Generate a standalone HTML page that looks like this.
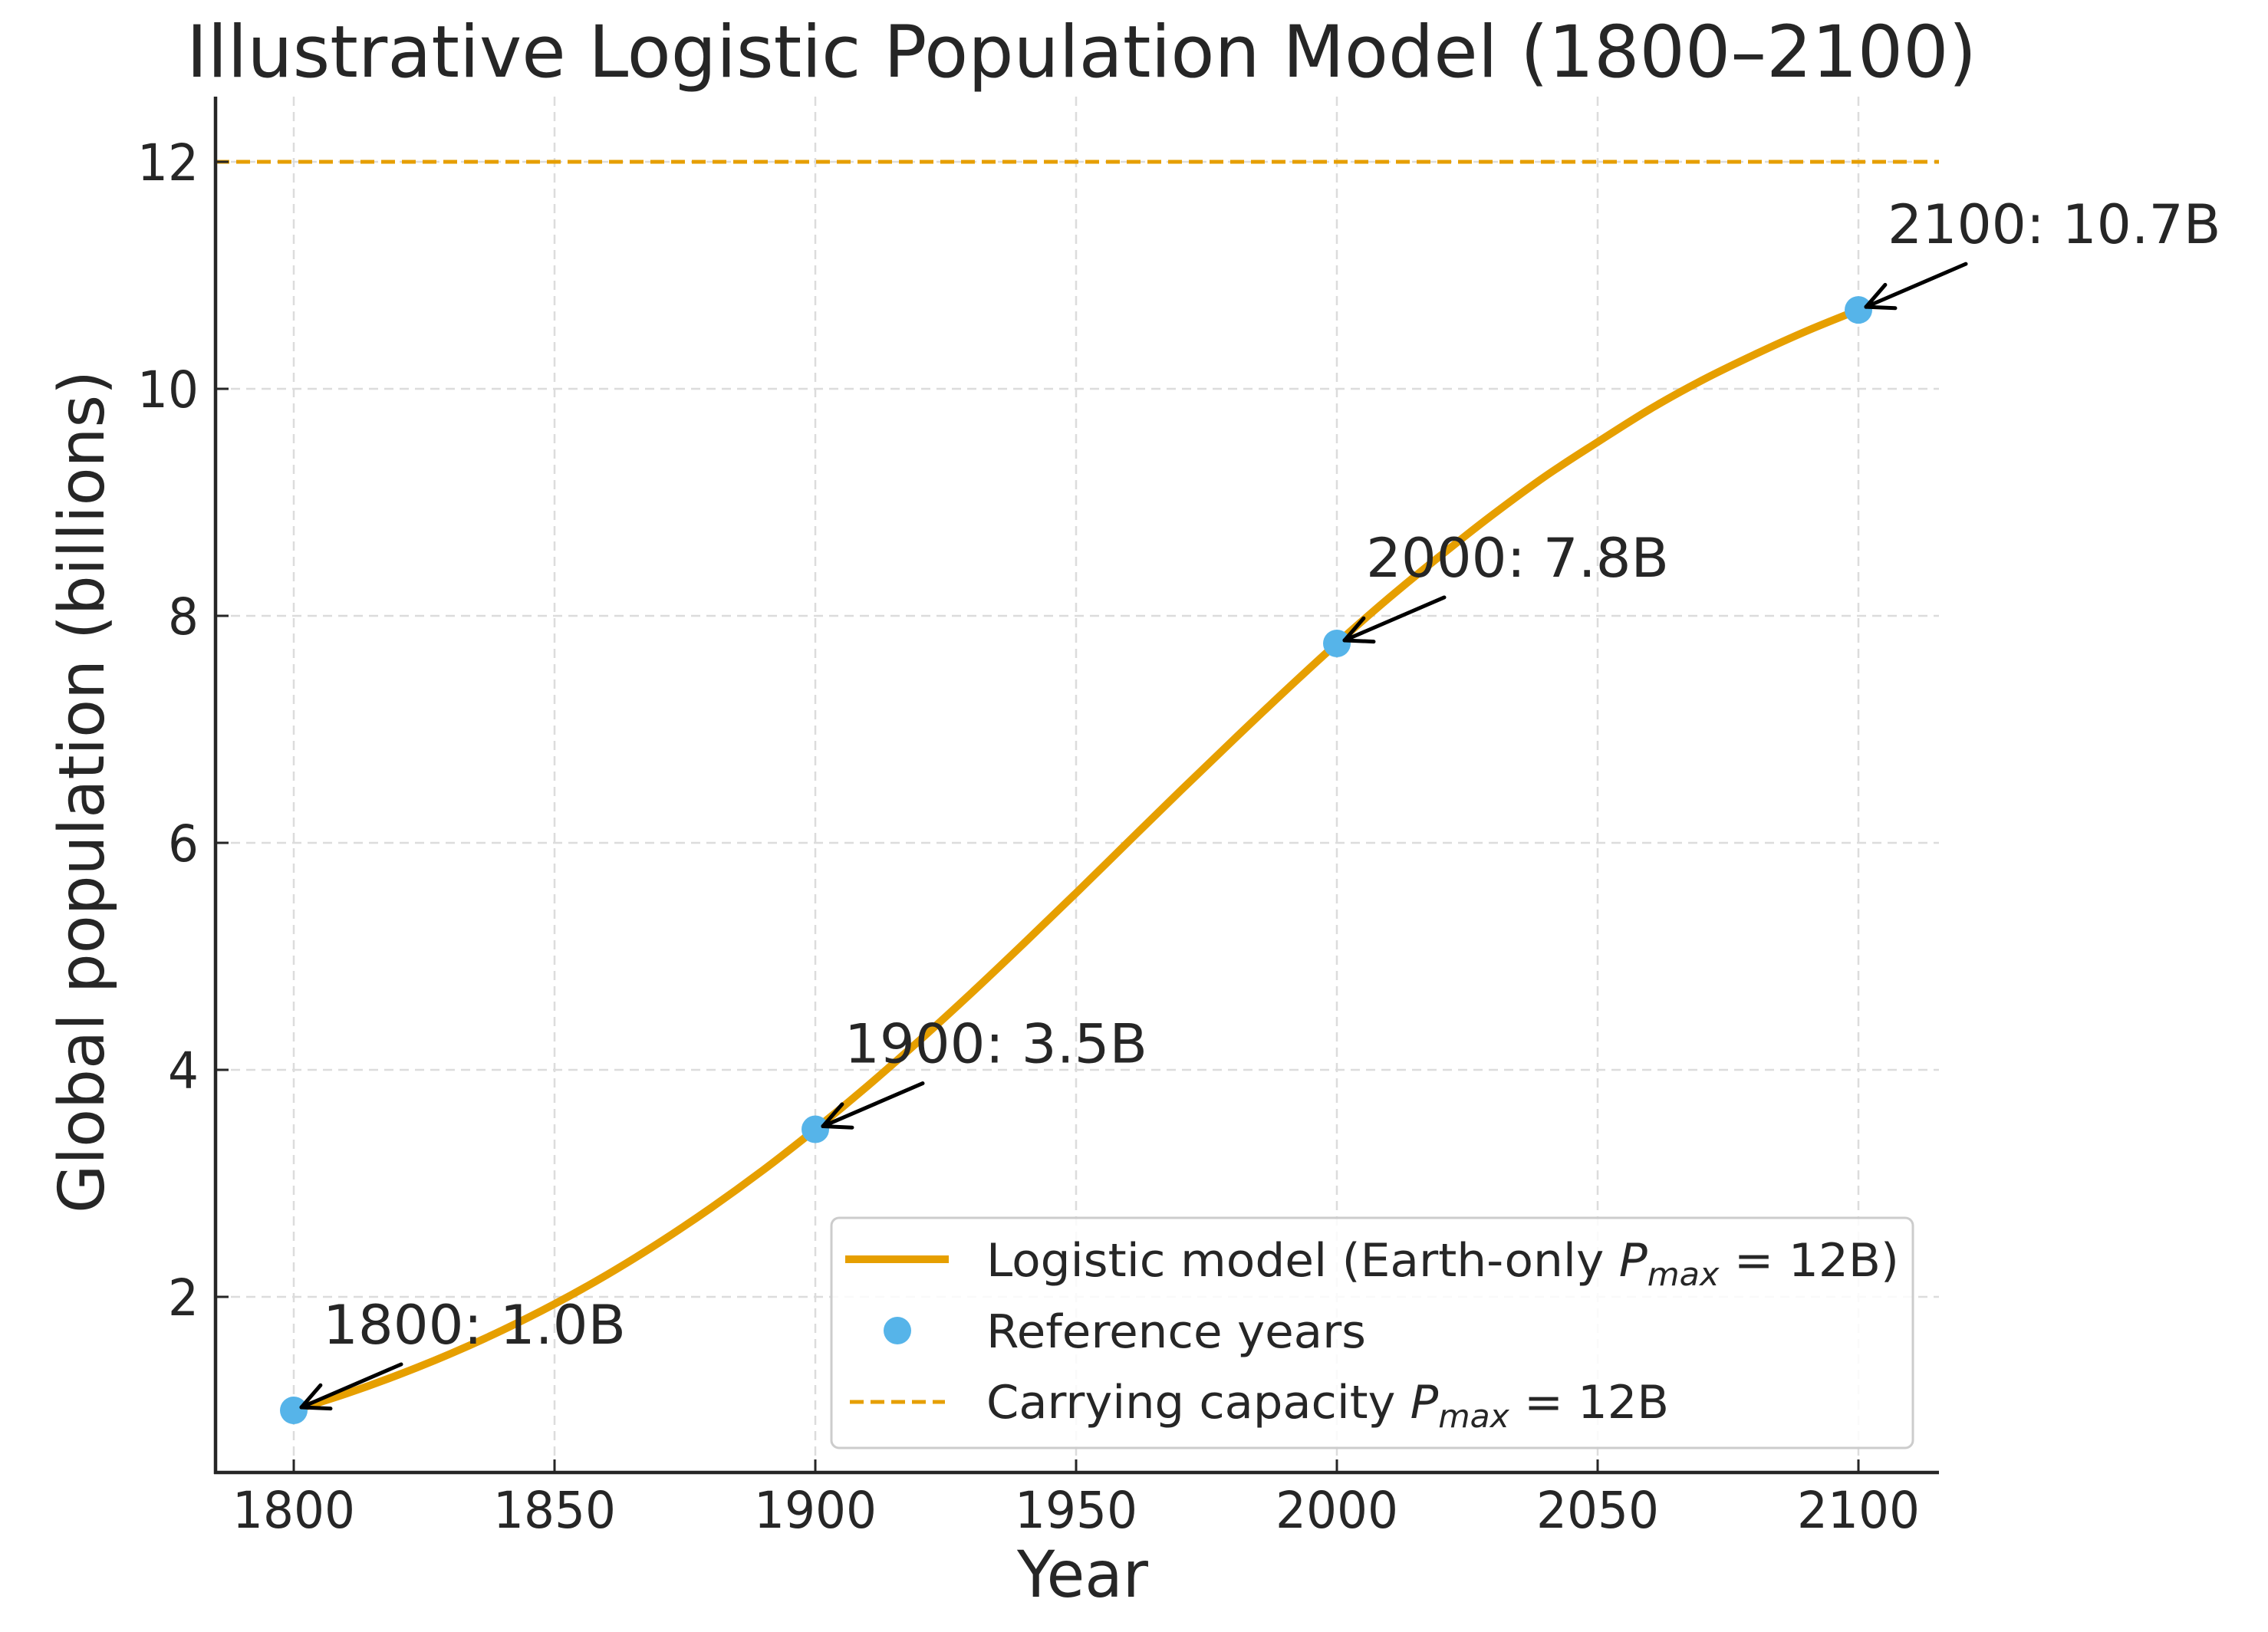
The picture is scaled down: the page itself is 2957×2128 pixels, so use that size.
<!DOCTYPE html>
<html><head><meta charset="utf-8"><style>
html,body{margin:0;padding:0;background:#fff}
svg{display:block}
text{font-family:"DejaVu Sans","Liberation Sans",sans-serif;fill:#262626}
</style></head><body>
<svg id="chart" width="2957" height="2128" viewBox="0 0 2957 2128" xmlns="http://www.w3.org/2000/svg">
<text x="243" y="100" font-size="94" textLength="2334" lengthAdjust="spacingAndGlyphs">Illustrative Logistic Population Model (1800–2100)</text>
<g id="grid"></g>
<g id="plot"></g>
<g id="axes"></g>
<text transform="translate(135,1582) rotate(-90)" font-size="82" textLength="1099" lengthAdjust="spacingAndGlyphs">Global population (billions)</text>
<text x="1326" y="2082" font-size="84" textLength="171" lengthAdjust="spacingAndGlyphs">Year</text>
<g>
<rect x="1084" y="1588" width="1410" height="300" rx="10" fill="#fff" fill-opacity="0.85" stroke="#cccccc" stroke-width="3"/>
<line x1="1102" y1="1642" x2="1237" y2="1642" stroke="#E69F00" stroke-width="10"/>
<text x="1286" y="1664" font-size="60" textLength="1190" lengthAdjust="spacingAndGlyphs">Logistic model (Earth-only <tspan font-style="italic">P</tspan><tspan font-style="italic" font-size="42" dy="12">max</tspan><tspan dy="-12"> = 12B)</tspan></text>
<ellipse cx="1170" cy="1735" rx="18" ry="18" fill="#56B4E9"/>
<text x="1286" y="1757" font-size="60" textLength="495" lengthAdjust="spacingAndGlyphs">Reference years</text>
<line x1="1108" y1="1828" x2="1232" y2="1828" stroke="#E69F00" stroke-width="5" stroke-dasharray="18,9"/>
<text x="1286" y="1849" font-size="60" textLength="890" lengthAdjust="spacingAndGlyphs">Carrying capacity <tspan font-style="italic">P</tspan><tspan font-style="italic" font-size="42" dy="12">max</tspan><tspan dy="-12"> = 12B</tspan></text>
</g>
</svg>
<script>
const xTicks = [1800, 1850, 1900, 1950, 2000, 2050, 2100];
const yTicks = [2, 4, 6, 8, 10, 12];
const curveYears = [1800,1810,1820,1830,1840,1850,1860,1870,1880,1890,1900,1910,1920,1930,1940,1950,1960,1970,1980,1990,2000,2010,2020,2030,2040,2050,2060,2070,2080,2090,2100];
const curveValues = [1.0,1.146,1.312,1.498,1.706,1.937,2.193,2.476,2.784,3.117,3.476,3.857,4.26,4.68,5.115,5.558,6.009,6.458,6.9,7.335,7.757,8.158,8.535,8.895,9.231,9.531,9.82,10.075,10.3,10.508,10.695];
const refYears = [1800, 1900, 2000, 2100];
const refValues = [1.0, 3.476, 7.757, 10.695];
const refLabels = ["1800: 1.0B", "1900: 3.5B", "2000: 7.8B", "2100: 10.7B"];
const capacity = 12;

const NS = "http://www.w3.org/2000/svg";
const X0 = 281, X1 = 2528, Y0 = 1920, Y1 = 126;
function xs(v){ return 383 + (v - 1800) * (340 / 50); }
function ys(v){ return 1987 - v * 148; }
function mk(tag, attrs, parent){ const e = document.createElementNS(NS, tag); for (const k in attrs) e.setAttribute(k, attrs[k]); parent.appendChild(e); return e; }

const grid = document.getElementById('grid');
const plot = document.getElementById('plot');
const axes = document.getElementById('axes');

xTicks.forEach(t => {
  const g = mk('line', {x1: xs(t), x2: xs(t), y1: Y1, y2: Y0, stroke: '#dcdcdc', 'stroke-width': 2.5, 'stroke-dasharray': '12,8'}, grid);
  
  
  const tk = mk('line', {x1: xs(t), x2: xs(t), y1: Y0, y2: Y0 - 17, stroke: '#262626', 'stroke-width': 3}, axes);
  
  
  const lb = mk('text', {x: xs(t), y: Y0 + 72, 'font-size': 66, 'text-anchor': 'middle', textLength: 160, lengthAdjust: 'spacingAndGlyphs'}, axes);
  lb.textContent = t;
  
  
});
yTicks.forEach(t => {
  const g = mk('line', {x1: X0, x2: X1, y1: ys(t), y2: ys(t), stroke: '#dcdcdc', 'stroke-width': 2.5, 'stroke-dasharray': '12,8'}, grid);
  
  
  const tk = mk('line', {x1: X0, x2: X0 + 17, y1: ys(t), y2: ys(t), stroke: '#262626', 'stroke-width': 3}, axes);
  
  
  const lb = mk('text', {x: 259, y: ys(t) + 24, 'font-size': 66, 'text-anchor': 'end', textLength: String(t).length * 40, lengthAdjust: 'spacingAndGlyphs'}, axes);
  lb.textContent = t;
  
  
});

const cap = mk('line', {x1: X0, x2: X1, y1: ys(capacity), y2: ys(capacity), stroke: '#E69F00', 'stroke-width': 5, 'stroke-dasharray': '18,9'}, plot);



const pts = curveYears.map((y, i) => [xs(y), ys(curveValues[i])]);
let d = 'M' + pts[0][0] + ',' + pts[0][1];
for (let i = 0; i < pts.length - 1; i++) {
  const p0 = pts[Math.max(0, i - 1)], p1 = pts[i], p2 = pts[i + 1], p3 = pts[Math.min(pts.length - 1, i + 2)];
  const c1x = p1[0] + (p2[0] - p0[0]) / 6, c1y = p1[1] + (p2[1] - p0[1]) / 6;
  const c2x = p2[0] - (p3[0] - p1[0]) / 6, c2y = p2[1] - (p3[1] - p1[1]) / 6;
  d += ' C' + c1x + ',' + c1y + ' ' + c2x + ',' + c2y + ' ' + p2[0] + ',' + p2[1];
}
const curve = mk('path', {d: d, fill: 'none', stroke: '#E69F00', 'stroke-width': 10, 'stroke-linecap': 'round'}, plot);



const spL = mk('line', {x1: X0, x2: X0, y1: Y1, y2: Y0 + 2, stroke: '#262626', 'stroke-width': 4.5}, axes);


const spB = mk('line', {x1: X0 - 2, x2: X1, y1: Y0, y2: Y0, stroke: '#262626', 'stroke-width': 4.5}, axes);



refYears.forEach((yr, i) => {
  const px = xs(yr), py = ys(refValues[i]);
  const m = mk('ellipse', {cx: px, cy: py, rx: 18, ry: 18, fill: '#56B4E9'}, plot);
  
  
  const tx = px + 140, ty = py - 60, hx = px + 10, hy = py - 4;
  const ar = mk('g', {stroke: '#000', 'stroke-width': 5, fill: 'none', 'stroke-linecap': 'round'}, plot);
  
  
  mk('line', {x1: tx, y1: ty, x2: hx, y2: hy}, ar);
  const ang = Math.atan2(ty - hy, tx - hx);
  [0.45, -0.45].forEach(a => {
    mk('line', {x1: hx, y1: hy, x2: hx + 38 * Math.cos(ang + a), y2: hy + 38 * Math.sin(ang + a)}, ar);
  });
  const lb = mk('text', {x: px + 38, y: py - 87, 'font-size': 70, textLength: refLabels[i].length * 39.5, lengthAdjust: 'spacingAndGlyphs'}, plot);
  lb.textContent = refLabels[i];
  
  
});
</script>
</body></html>
